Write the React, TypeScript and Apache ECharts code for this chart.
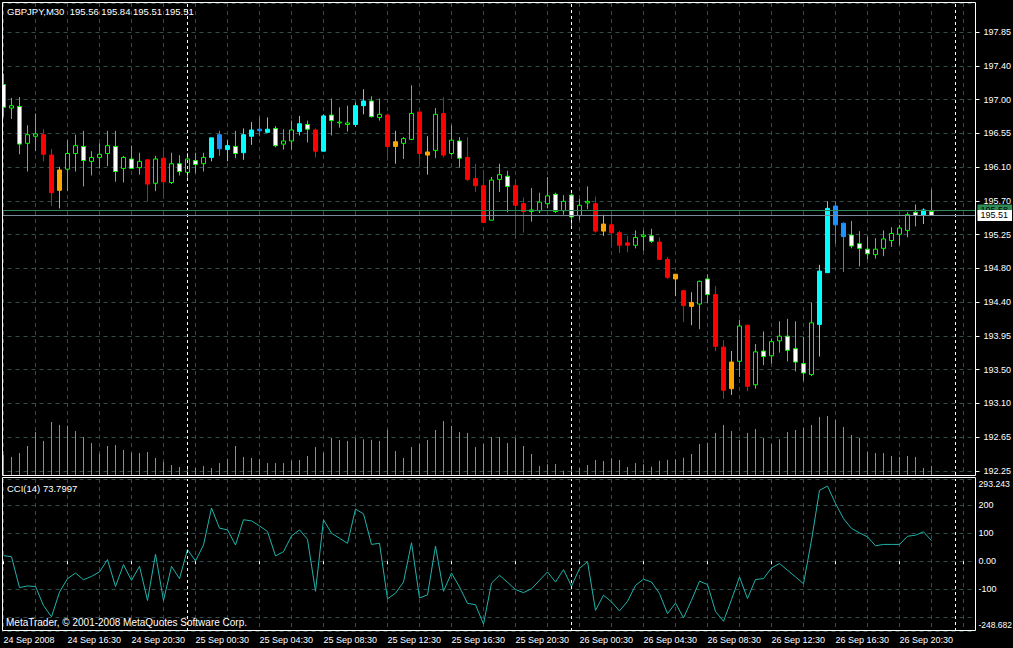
import React, { useEffect, useRef } from "react";
import * as echarts from "echarts";

// ---------- data ----------
const SLOT_COUNT = 122; // 117 bars + empty right shift
const slots = Array.from({ length: SLOT_COUNT }, (_, i) => String(i));

const opens = [
  197.18, 196.88, 196.90, 196.43, 196.52, 196.54, 196.28, 195.83, 196.10, 196.30,
  196.39, 196.20, 196.25, 196.30, 196.39, 196.11, 196.23, 196.12, 196.22, 195.92,
  196.24, 195.93, 196.17, 196.06, 196.21, 196.17, 196.25, 196.54, 196.35, 196.39,
  196.31, 196.52, 196.61, 196.57, 196.62, 196.42, 196.46, 196.58, 196.67, 196.60,
  196.33, 196.79, 196.69, 196.67, 196.67, 196.91, 196.97, 196.76, 196.79, 196.39,
  196.43, 196.48, 196.83, 196.28, 196.34, 196.81, 196.30, 196.46, 196.25, 195.98,
  195.89, 195.45, 195.97, 196.01, 195.89, 195.66, 195.56, 195.57, 195.66, 195.78,
  195.57, 195.77, 195.51, 195.67, 195.66, 195.31, 195.39, 195.29, 195.16, 195.13,
  195.24, 195.25, 195.17, 194.95, 194.70, 194.55, 194.35, 194.38, 194.70, 194.50,
  193.83, 193.30, 193.65, 194.11, 193.35, 193.78, 193.72, 193.91, 193.97, 193.81,
  193.62, 193.48, 194.12, 194.78, 195.63, 195.41, 195.26, 195.15, 195.08, 195.01,
  195.09, 195.19, 195.27, 195.32, 195.55, 195.51, 195.56,
];
const highs = [
  197.32, 197.01, 197.02, 196.66, 196.81, 196.61, 196.36, 196.13, 196.47, 196.54,
  196.59, 196.33, 196.43, 196.59, 196.59, 196.27, 196.40, 196.31, 196.22, 196.27,
  196.34, 196.31, 196.28, 196.31, 196.31, 196.31, 196.50, 196.59, 196.47, 196.59,
  196.62, 196.70, 196.77, 196.76, 196.65, 196.61, 196.72, 196.78, 196.72, 196.62,
  196.80, 197.00, 196.89, 196.91, 196.95, 197.12, 197.03, 197.00, 196.81, 196.59,
  196.51, 197.17, 196.83, 196.52, 196.88, 197.02, 196.66, 196.51, 196.51, 196.17,
  196.09, 196.00, 196.17, 196.08, 195.97, 195.74, 195.86, 195.80, 196.00, 195.80,
  195.77, 195.79, 195.72, 195.88, 195.75, 195.52, 195.54, 195.31, 195.25, 195.32,
  195.32, 195.34, 195.23, 194.98, 194.76, 194.55, 194.53, 194.68, 194.76, 194.61,
  193.92, 193.78, 194.18, 194.11, 193.87, 194.03, 193.94, 194.16, 194.19, 194.16,
  193.96, 194.40, 194.88, 195.69, 195.69, 195.42, 195.44, 195.31, 195.24, 195.22,
  195.32, 195.36, 195.39, 195.55, 195.65, 195.60, 195.84,
];
const lows = [
  196.77, 196.74, 196.29, 196.07, 196.33, 196.20, 195.63, 195.60, 195.82, 196.07,
  195.88, 196.02, 196.11, 196.14, 195.94, 195.93, 196.11, 196.03, 195.69, 195.82,
  195.76, 195.91, 196.02, 195.96, 196.05, 196.07, 196.20, 196.27, 196.20, 196.24,
  196.22, 196.41, 196.52, 196.56, 196.38, 196.35, 196.35, 196.53, 196.44, 196.25,
  196.33, 196.53, 196.63, 196.58, 196.64, 196.80, 196.76, 196.72, 196.21, 196.17,
  196.23, 196.47, 196.17, 196.03, 196.24, 196.25, 196.28, 196.12, 195.95, 195.81,
  195.41, 195.45, 195.81, 195.55, 195.22, 195.29, 195.43, 195.54, 195.60, 195.54,
  195.52, 195.35, 195.45, 195.59, 195.29, 195.25, 195.10, 195.03, 195.04, 195.09,
  195.06, 195.16, 194.94, 194.70, 194.48, 194.15, 194.11, 194.06, 194.39, 193.78,
  193.17, 193.22, 193.45, 193.27, 193.30, 193.60, 193.62, 193.76, 193.65, 193.52,
  193.40, 193.46, 193.71, 194.78, 195.15, 194.79, 195.09, 194.86, 194.95, 194.96,
  194.99, 195.11, 195.13, 195.23, 195.37, 195.40, 195.51,
];
const closes = [
  196.89, 196.91, 196.42, 196.54, 196.55, 196.29, 195.80, 196.09, 196.30, 196.40,
  196.21, 196.25, 196.29, 196.40, 196.07, 196.25, 196.11, 196.20, 195.91, 196.23,
  195.94, 196.17, 196.07, 196.23, 196.16, 196.25, 196.50, 196.36, 196.40, 196.30,
  196.54, 196.60, 196.59, 196.61, 196.40, 196.46, 196.60, 196.68, 196.61, 196.33,
  196.78, 196.72, 196.70, 196.69, 196.91, 196.97, 196.77, 196.80, 196.39, 196.45,
  196.49, 196.81, 196.30, 196.32, 196.80, 196.28, 196.47, 196.24, 195.97, 195.89,
  195.42, 195.96, 196.03, 195.88, 195.64, 195.56, 195.58, 195.68, 195.76, 195.56,
  195.69, 195.49, 195.64, 195.69, 195.31, 195.40, 195.29, 195.13, 195.13, 195.23,
  195.26, 195.18, 194.95, 194.72, 194.76, 194.36, 194.40, 194.67, 194.50, 193.84,
  193.28, 193.64, 194.10, 193.33, 193.77, 193.71, 193.90, 193.97, 193.79, 193.64,
  193.50, 194.14, 194.80, 195.60, 195.39, 195.24, 195.12, 195.09, 195.02, 195.08,
  195.21, 195.28, 195.35, 195.52, 195.51, 195.58, 195.51,
];
// n = plain candle, r = red, o = orange, c = aqua, b = blue
const candleColors = [
  "n","n","n","n","n","r","r","o","n","n",
  "n","n","n","n","n","n","n","n","r","n",
  "r","n","n","n","n","n","c","b","c","n",
  "c","c","b","c","n","n","n","c","n","r",
  "c","n","n","n","c","c","n","n","r","o",
  "n","n","r","o","n","r","n","n","r","r",
  "r","n","n","n","r","r","n","n","n","n",
  "n","n","n","n","r","o","r","r","r","n",
  "n","n","r","r","o","r","o","n","n","r",
  "r","o","n","r","n","n","n","n","n","n",
  "n","n","c","c","b","b","n","n","n","n",
  "n","n","n","n","n","c","n",
];
const volumes = [
  180, 162, 198, 261, 387, 306, 477, 450, 444, 396,
  342, 288, 192, 261, 270, 225, 201, 198, 207, 153,
  117, 90, 72, 63, 63, 81, 63, 108, 147, 261,
  162, 153, 144, 108, 108, 108, 129, 135, 171, 252,
  201, 333, 315, 306, 333, 321, 318, 306, 408, 216,
  153, 252, 279, 315, 405, 486, 441, 387, 378, 252,
  279, 342, 342, 288, 333, 261, 189, 81, 96, 99,
  39, 75, 63, 90, 135, 126, 150, 135, 72, 108,
  96, 75, 129, 138, 141, 156, 189, 279, 291, 378,
  450, 396, 318, 378, 414, 333, 279, 321, 387, 405,
  423, 450, 522, 531, 495, 432, 360, 333, 207, 198,
  198, 171, 162, 171, 162, 63, 81,
];
const cci = [
  20, 16, -94, -88, -90, -158, -198, -110, -62, -42,
  -66, -54, -38, 6, -90, -12, -68, -18, -140, 25,
  -140, -18, -62, 42, 1, 58, 190, 118, 112, 58,
  148, 144, 126, 106, 19, 34, 90, 112, 78, -107,
  148, 100, 82, 64, 186, 169, 60, 64, -134, -114,
  -74, 66, -131, -120, 54, -107, -42, -92, -150, -155,
  -224, -78, -50, -75, -101, -112, -98, -68, -38, -74,
  -30, -89, -26, -1, -175, -121, -145, -177, -143, -86,
  -64, -74, -115, -187, -149, -202, -139, -71, -83, -179,
  -214, -137, -56, -133, -65, -62, -24, -8, -32, -56,
  -80, 75, 253, 268, 206, 152, 117, 101, 87, 55,
  60, 60, 60, 89, 93, 105, 73.7997,
];
const timeLabels = [
  "24 Sep 2008", "24 Sep 16:30", "24 Sep 20:30", "25 Sep 00:30", "25 Sep 04:30",
  "25 Sep 08:30", "25 Sep 12:30", "25 Sep 16:30", "25 Sep 20:30", "26 Sep 00:30",
  "26 Sep 04:30", "26 Sep 08:30", "26 Sep 12:30", "26 Sep 16:30", "26 Sep 20:30",
];
const priceLabels = [
  "192.25", "192.65", "193.10", "193.50", "193.95", "194.40", "194.80",
  "195.25", "195.70", "196.10", "196.55", "197.00", "197.40", "197.85",
];
const PRICE_MIN = 192.25;
const PRICE_GRID_TOP = 197.85;
const PRICE_STEPS = 13;
const PRICE_MAX = 198.22;
const BID = 195.51;
const ASK = 195.58;
const CCI_MIN = -248.682;
const CCI_MAX = 293.243;
const VOLUME_MAX = 4248;
const daySeparators = [23, 71, 119];
const titleText = "GBPJPY,M30  195.56 195.84 195.51 195.51";
const cciText = "CCI(14) 73.7997";
const copyrightText = "MetaTrader, \u00A9 2001-2008 MetaQuotes Software Corp.";

// ---------- style ----------
const FONT = "Tahoma, 'Liberation Sans', Arial, sans-serif";
const GRID_COLOR = "#2F4F4F";
const palette: Record<string, string> = {
  r: "#FF0000",
  o: "#FFA500",
  c: "#00FFFF",
  b: "#1E90FF",
};

export default function App() {
  const ref = useRef<HTMLDivElement>(null);

  useEffect(() => {
    if (!ref.current) return;
    const chart = echarts.init(ref.current, null, { renderer: "svg" });
    const priceInterval = (PRICE_GRID_TOP - PRICE_MIN) / PRICE_STEPS;

    const candles = opens.map((o, i) => {
      const v = [o, closes[i], lows[i], highs[i]];
      const code = candleColors[i];
      if (code === "n") return v;
      const c = palette[code];
      return {
        value: v,
        itemStyle: { color: c, color0: c, borderColor: c, borderColor0: c },
      };
    });

    const gridBase = {
      left: -0.5,
      width: 976,
      containLabel: false,
      outerBoundsMode: "none",
    };
    const hiddenX = {
      type: "category",
      data: slots,
      boundaryGap: true,
      axisLine: { show: false },
      axisTick: { show: false },
      axisLabel: { show: false },
      splitLine: { show: false },
    };
    const vSplit = {
      show: true,
      interval: 3,
      alignWithLabel: true,
      lineStyle: { color: GRID_COLOR, type: [4, 4], width: 1 },
    };
    const labelStyle = { color: "#FFFFFF", fontSize: 9, fontFamily: FONT };
    const sepLine = {
      silent: true,
      symbol: ["none", "none"],
      label: { show: false },
      lineStyle: { color: "#FFFFFF", type: [3, 3], width: 1 },
      data: daySeparators.map((x) => ({ xAxis: x })),
    };

    const option: any = {
      animation: false,
      backgroundColor: "#000000",
      textStyle: { fontFamily: FONT },
      grid: [
        { ...gridBase, top: 3, height: 468 },
        { ...gridBase, top: 3, height: 472 },
        { ...gridBase, top: 479, height: 152 },
      ],
      xAxis: [
        { ...hiddenX, gridIndex: 0 },
        { ...hiddenX, gridIndex: 1, splitLine: vSplit },
        {
          ...hiddenX,
          gridIndex: 2,
          splitLine: vSplit,
          axisTick: {
            show: true,
            interval: 7,
            alignWithLabel: true,
            length: 3,
            lineStyle: { color: "#FFFFFF" },
          },
          axisLabel: {
            show: true,
            interval: 7,
            align: "left",
            margin: 4,
            ...labelStyle,
            formatter: (_v: string, idx: number) =>
              idx % 8 === 0 && timeLabels[idx / 8] ? timeLabels[idx / 8] : "",
          },
        },
      ],
      yAxis: [
        {
          type: "value",
          gridIndex: 0,
          position: "right",
          min: PRICE_MIN,
          max: PRICE_MAX,
          interval: priceInterval,
          axisLine: { show: false },
          axisTick: { show: true, length: 4, lineStyle: { color: "#FFFFFF" } },
          splitLine: { show: true, lineStyle: { color: GRID_COLOR, type: [4, 4] } },
          axisLabel: {
            ...labelStyle,
            margin: 8,
            showMinLabel: true,
            showMaxLabel: false,
            formatter: (v: number) => {
              const k = Math.round((v - PRICE_MIN) / priceInterval);
              if (Math.abs(v - (PRICE_MIN + k * priceInterval)) > 1e-6) return "";
              return priceLabels[k] || "";
            },
          },
        },
        { type: "value", gridIndex: 1, min: 0, max: VOLUME_MAX, show: false },
        {
          type: "value",
          gridIndex: 2,
          position: "right",
          min: CCI_MIN,
          max: CCI_MAX,
          splitNumber: 5,
          axisLine: { show: false },
          axisTick: { show: false },
          splitLine: { show: true, lineStyle: { color: GRID_COLOR, type: [4, 4] } },
          axisLabel: {
            ...labelStyle,
            margin: 3,
            showMinLabel: true,
            showMaxLabel: true,
            formatter: (v: number) => {
              if (Math.abs(v - CCI_MAX) < 1e-6) return "{top|" + CCI_MAX.toFixed(3) + "}";
              if (Math.abs(v - CCI_MIN) < 1e-6) return "{bot|" + CCI_MIN.toFixed(3) + "}";
              if (v === 0) return "0.00";
              return String(v);
            },
            rich: {
              top: { ...labelStyle, fontSize: 8.7, padding: [10, 0, 0, 0] },
              bot: { ...labelStyle, fontSize: 8.5, padding: [0, 0, 12, 0] },
            },
          },
        },
      ],
      series: [
        {
          type: "bar",
          xAxisIndex: 1,
          yAxisIndex: 1,
          data: volumes,
          barWidth: 1,
          itemStyle: { color: "#32CD32" },
          silent: true,
          markLine: sepLine,
        },
        {
          type: "candlestick",
          xAxisIndex: 0,
          yAxisIndex: 0,
          data: candles,
          barWidth: 4,
          silent: true,
          itemStyle: {
            color: "#000000",
            color0: "#FFFFFF",
            borderColor: "#00FF00",
            borderColor0: "#00FF00",
            borderWidth: 1,
          },
          markLine: {
            silent: true,
            symbol: ["none", "none"],
            data: [
              {
                yAxis: ASK,
                lineStyle: { color: "#2E8B57", type: "solid", width: 1 },
                label: {
                  show: true,
                  position: "end",
                  distance: 2,
                  formatter: ASK.toFixed(2),
                  color: "#000000",
                  backgroundColor: "#2E8B57",
                  padding: [1, 4, 1, 3],
                  fontSize: 9,
                  fontFamily: FONT,
                },
              },
              {
                yAxis: BID,
                lineStyle: { color: "#778899", type: "solid", width: 1 },
                label: {
                  show: true,
                  position: "end",
                  distance: 2,
                  formatter: BID.toFixed(2),
                  color: "#000000",
                  backgroundColor: "#FFFFFF",
                  padding: [1, 4, 1, 3],
                  fontSize: 9,
                  fontFamily: FONT,
                },
              },
            ],
          },
        },
        {
          type: "line",
          xAxisIndex: 2,
          yAxisIndex: 2,
          data: cci,
          showSymbol: false,
          silent: true,
          lineStyle: { color: "#20B2AA", width: 1 },
          markLine: sepLine,
        },
      ],
      graphic: [
        { type: "rect", z: 99, shape: { x: 0, y: 0, width: 2, height: 648 }, style: { fill: "#000000" } },
        {
          type: "rect",
          z: 100,
          shape: { x: 2.5, y: 2.5, width: 973, height: 473 },
          style: { fill: "none", stroke: "#FFFFFF", lineWidth: 1 },
        },
        {
          type: "rect",
          z: 100,
          shape: { x: 2.5, y: 477.5, width: 973, height: 153 },
          style: { fill: "none", stroke: "#FFFFFF", lineWidth: 1 },
        },
        {
          type: "text",
          z: 101,
          x: 7,
          y: 11,
          style: { text: titleText, fill: "#FFFFFF", font: "9.5px " + FONT, textVerticalAlign: "middle" },
        },
        {
          type: "text",
          z: 101,
          x: 7,
          y: 488,
          style: { text: cciText, fill: "#FFFFFF", font: "9.5px " + FONT, textVerticalAlign: "middle" },
        },
        {
          type: "text",
          z: 101,
          x: 6,
          y: 622.5,
          style: { text: copyrightText, fill: "#FFFFFF", font: "10px " + FONT, textVerticalAlign: "middle" },
        },
      ],
    };

    chart.setOption(option);
    return () => chart.dispose();
  }, []);

  return (
    <div
      ref={ref}
      style={{ position: "fixed", left: 0, top: 0, width: 1013, height: 648, background: "#000" }}
    />
  );
}
